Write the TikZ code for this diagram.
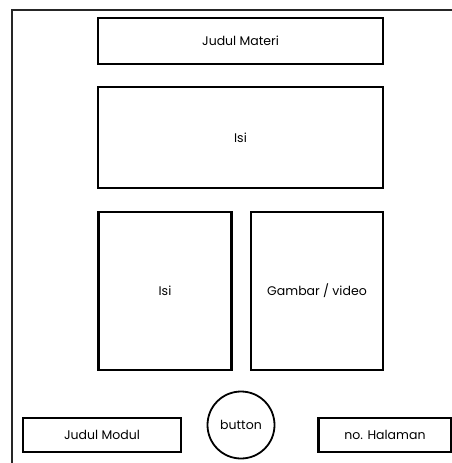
\documentclass[tikz,border=0pt]{standalone}
\usepackage{fontspec}
\setmainfont{Poppins}
\usepackage{tikz}

\tikzset{
    kotak/.style={draw, line width=2.2pt, minimum width=#1, inner sep=0pt, font=\fontsize{12.5}{14}\selectfont},
    tombol/.style={draw, circle, line width=1.8pt, minimum size=67pt, inner sep=0pt, font=\fontsize{12.5}{14}\selectfont}
}

\begin{document}
\begin{tikzpicture}[x=1pt, y=-1pt]
        \useasboundingbox (0,0) rectangle (452,463);
        % bingkai halaman
        \draw[line width=2pt, black!85] (460,9.5) -- (12,9.5) -- (12,470);
        \node[kotak=285pt, minimum height=46pt] (judulmateri) at (240.5,41) {Judul Materi};
        \node[kotak=285pt, minimum height=101pt] (isiatas) at (240.5,137.5) {Isi};
        \node[kotak=133pt, minimum height=158pt] (isikiri) at (165,291) {Isi};
        \node[kotak=132pt, minimum height=158pt] (gambar) at (317,291) {Gambar / video};
        \node[kotak=158pt, minimum height=34pt] (judulmodul) at (102,435) {Judul Modul};
        \node[tombol] (button) at (241,425) {button};
        \node[kotak=133pt, minimum height=34pt] (halaman) at (385,435) {no. Halaman};
    \end{tikzpicture}
\end{document}
